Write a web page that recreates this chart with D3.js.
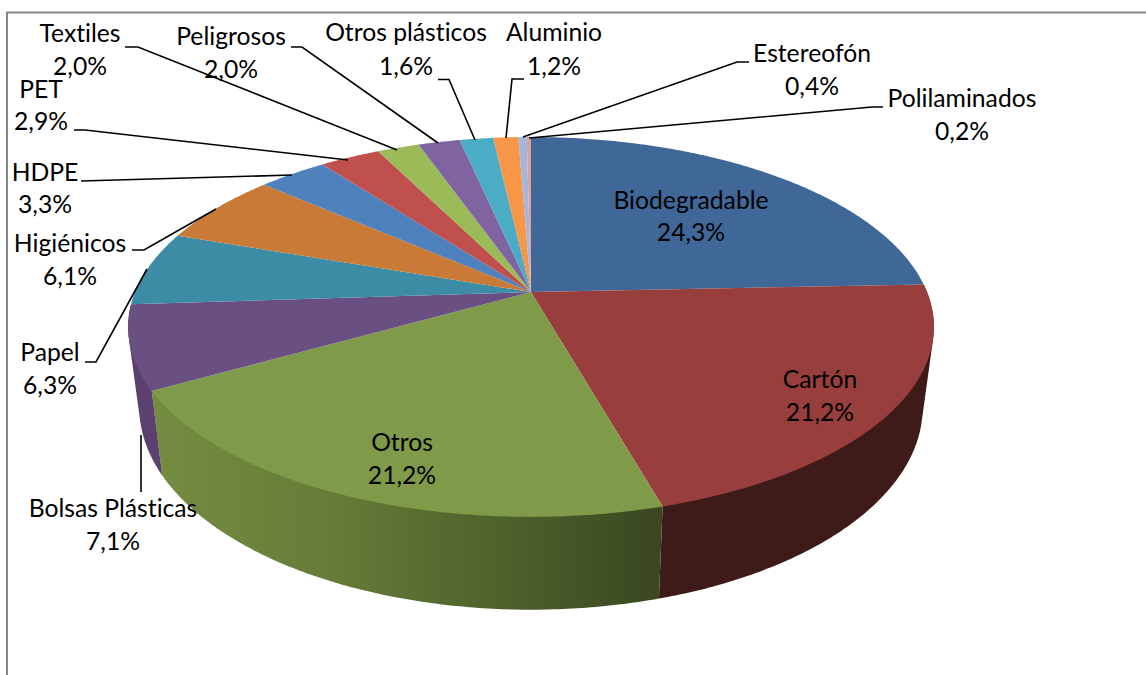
<!DOCTYPE html>
<html>
<head>
<meta charset="utf-8">
<script src="https://cdn.jsdelivr.net/npm/d3@7/dist/d3.min.js"></script>
<style>
	html, body { margin: 0; padding: 0; background: #fff; }
	svg { display: block; }
	.lbl { font-family: Lato, "Open Sans", sans-serif; font-size: 24.7px; fill: #000; text-anchor: middle; font-variant-ligatures: none; }
	.leader { fill: none; stroke: #000; stroke-width: 1.6px; }
</style>
</head>
<body>
<svg id="chart"></svg>
<script>
const categories = ["Biodegradable", "Cartón", "Otros", "Bolsas Plásticas", "Papel", "Higiénicos", "HDPE", "PET", "Textiles", "Peligrosos", "Otros plásticos", "Aluminio", "Estereofón", "Polilaminados"];
const values = [24.3, 21.2, 21.2, 7.1, 6.3, 6.1, 3.3, 2.9, 2.0, 2.0, 1.6, 1.2, 0.4, 0.2];
const topColors = ["#3f6899", "#983f3d", "#7f9a48", "#6a5082", "#3d8ca5", "#c87a36", "#4f81bd", "#c0504d", "#9bbb59", "#8064a2", "#4bacc6", "#f79646", "#a5b6d9", "#dca0a0"];
// wall shading, left to right, only the slices that face the viewer
const wallColors = {
	"Cartón": ["#3e1a18", "#3e1a18"],
	"Otros": ["#738c40", "#667c38", "#4f632c", "#3a4720"],
	"Bolsas Plásticas": ["#5a4170", "#5a4170"]
};
// label centre + baselines, and the leader polyline going to the slice
const labelLayout = [
	{ x: 691, y: [209, 241] },
	{ x: 820, y: [388, 421] },
	{ x: 402, y: [451, 484] },
	{ x: 113, y: [517, 550], leader: [[141, 492], [141, 435]] },
	{ x: 50, y: [361, 394], leader: [[85, 362], [96, 362], [147, 269]] },
	{ x: 70, y: [252, 285], leader: [[132, 250], [144, 250], [216, 209]] },
	{ x: 45, y: [181, 213], leader: [[81, 181], [292, 175]] },
	{ x: 41, y: [98, 130], leader: [[74, 130], [85, 130], [348, 160]] },
	{ x: 80, y: [42, 75], leader: [[125, 47], [138, 47], [397, 150]] },
	{ x: 231, y: [45, 78], leader: [[291, 47], [302, 47], [438, 143]] },
	{ x: 406, y: [41, 75], leader: [[438, 79.5], [449, 79.5], [475, 140]] },
	{ x: 554, y: [41, 75], leader: [[524, 79], [512, 79], [506, 138]] },
	{ x: 812, y: [62, 95], leader: [[749, 62], [737, 62], [523, 137]] },
	{ x: 962, y: [107, 140], leader: [[883, 107], [872, 107], [529, 138]] }
];

const width = 1146, height = 675;
const svg = d3.select("#chart").attr("width", width).attr("height", height);

// perspective disc: same k for both faces, bottom one a bit smaller
const k = 0.184;
const topFace = { cx: 531, cy: 292, a: 396, b: 183.5 };
const bottomFace = { cx: 531, cy: 370, a: 385, b: 195.6 };
function project(face, angle) {
	let u = Math.sin(angle), v = -Math.cos(angle), s = 1 / (1 - k * v);
	return [face.cx + face.a * u * s, face.cy + face.b * v * s];
}
function arcPoints(face, a0, a1) {
	let n = Math.max(2, Math.ceil(Math.abs(a1 - a0) / 0.01));
	return d3.range(n + 1).map(i => project(face, a0 + (a1 - a0) * i / n));
}

const pie = d3.pie().sort(null).value(d => d);
const slices = pie(values);
const line = d3.line();
const fmt = d3.formatLocale({ decimal: ",", thousands: ".", grouping: [3], currency: ["", ""] }).format(".1f");

// chart frame, only top and left show in the crop
svg.append("path")
	.attr("d", line([[7, height], [7, 12.5], [width, 12.5]]))
	.attr("fill", "none")
	.attr("stroke", "#868686")
	.attr("stroke-width", 2);

const defs = svg.append("defs");
slices.forEach((d, i) => {
	let stops = wallColors[categories[i]];
	if (!stops) return;
	let xs = arcPoints(bottomFace, d.startAngle, d.endAngle).map(p => p[0]);
	let grad = defs.append("linearGradient")
		.attr("id", `wall${i}`)
		.attr("gradientUnits", "userSpaceOnUse")
		.attr("x1", d3.min(xs)).attr("x2", d3.max(xs))
		.attr("y1", 0).attr("y2", 0);
	stops.forEach((c, j) => {
		grad.append("stop").attr("offset", j / (stops.length - 1)).attr("stop-color", c);
	});
});

// walls first, faces go on top. hull gives the straight tangent edge at both sides of the disc
svg.append("g").selectAll("path")
	.data(slices.filter((d, i) => wallColors[categories[i]]))
	.join("path")
	.attr("d", d => {
		let hull = d3.polygonHull(arcPoints(topFace, d.startAngle, d.endAngle).concat(arcPoints(bottomFace, d.startAngle, d.endAngle)));
		return "M" + hull.join("L") + "Z";
	})
	.attr("fill", d => `url(#wall${d.index})`);

svg.append("g").selectAll("path")
	.data(slices)
	.join("path")
	.attr("d", d => line([[topFace.cx, topFace.cy]].concat(arcPoints(topFace, d.startAngle, d.endAngle))) + "Z")
	.attr("fill", (d, i) => topColors[i]);

svg.append("g").selectAll("path")
	.data(labelLayout.filter(d => d.leader))
	.join("path")
	.attr("class", "leader")
	.attr("d", d => line(d.leader));

const labels = svg.append("g").selectAll("g")
	.data(categories)
	.join("g");
labels.append("text")
	.attr("class", "lbl")
	.attr("x", (d, i) => labelLayout[i].x)
	.attr("y", (d, i) => labelLayout[i].y[0])
	.text(d => d);
labels.append("text")
	.attr("class", "lbl")
	.attr("x", (d, i) => labelLayout[i].x)
	.attr("y", (d, i) => labelLayout[i].y[1])
	.text((d, i) => fmt(values[i]) + "%");
</script>
</body>
</html>
